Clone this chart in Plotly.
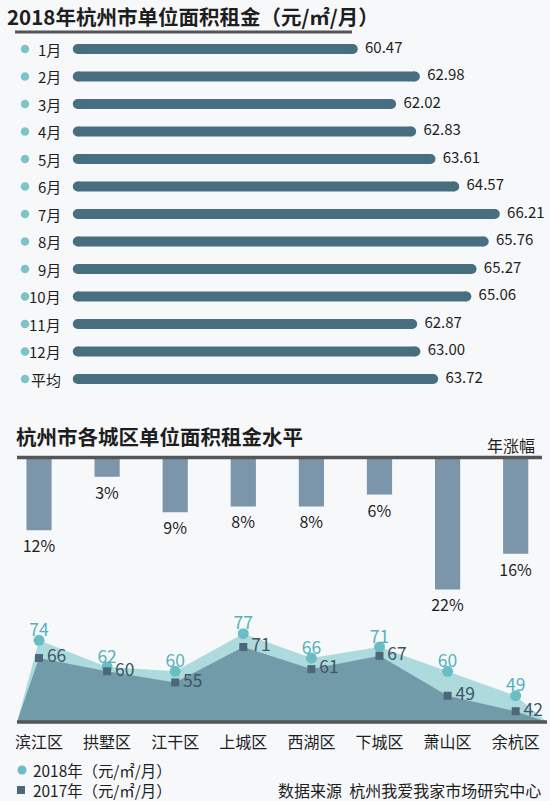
import plotly.graph_objects as go

W, H = 550, 801
FONT = "Noto Sans CJK SC"

# ---------------- data ----------------
months = ["1月", "2月", "3月", "4月", "5月", "6月", "7月", "8月", "9月", "10月", "11月", "12月", "平均"]
rent_2018 = [60.47, 62.98, 62.02, 62.83, 63.61, 64.57, 66.21, 65.76, 65.27, 65.06, 62.87, 63.00, 63.72]

districts = ["滨江区", "拱墅区", "江干区", "上城区", "西湖区", "下城区", "萧山区", "余杭区"]
growth_pct = [12, 3, 9, 8, 8, 6, 22, 16]
district_rent_2018 = [74, 62, 60, 77, 66, 71, 60, 49]
district_rent_2017 = [66, 60, 55, 71, 61, 67, 49, 42]

# ---------------- styles ----------------
BG = "#f7f8fa"
TEXT = "#1e1e1e"
RULE = "#555555"
BAR_COLOR = "#486f80"
DOT_COLOR = "#7cc4ca"
GROWTH_COLOR = "#7b95ab"
AREA_2018 = "#addadd"
AREA_2017 = "#729ba9"
DOT_2018 = "#6bbdc4"
LABEL_2018 = "#55b2ba"
SQ_2017 = "#4a6878"
LABEL_2017 = "#3e5663"

BAR_START = 49.36          # left end of the monthly capsules
X1_RANGE = [46.217, 68.439]
X_RANGE = [-0.573, 7.504]  # shared by the district charts
Y2_MAX = 23.78
Y3_RANGE = [37.13, 92.2]
AREA_PAD_L, AREA_PAD_R = 0.323, 0.46


def px(x):
    return x / W


def py(y):
    return 1 - y / H


fig = go.Figure()

# monthly capsules (line + round caps)
cap_x, cap_y = [], []
for m, v in zip(months, rent_2018):
    cap_x += [BAR_START, v, None]
    cap_y += [m, m, None]
fig.add_trace(go.Scatter(
    x=cap_x, y=cap_y, mode="lines+markers",
    line=dict(color=BAR_COLOR, width=10),
    marker=dict(color=BAR_COLOR, size=10),
    hoverinfo="skip", xaxis="x", yaxis="y"))
fig.add_trace(go.Scatter(
    x=rent_2018, y=months, mode="markers+text",
    marker=dict(size=18, color="rgba(0,0,0,0)"),
    text=[f"{v:.2f}" for v in rent_2018], textposition="middle right",
    textfont=dict(family=FONT, size=15, color=TEXT),
    cliponaxis=False, xaxis="x", yaxis="y"))

# yearly growth bars
idx = list(range(len(districts)))
fig.add_trace(go.Bar(
    x=idx, y=growth_pct, width=0.37, marker=dict(color=GROWTH_COLOR, line=dict(width=0)),
    text=[f"{g}%" for g in growth_pct], textposition="outside", constraintext="none",
    textfont=dict(family=FONT, size=16, color=TEXT), cliponaxis=False,
    xaxis="x2", yaxis="y2"))

# district rent areas
area_x = [idx[0] - AREA_PAD_L] + idx + [idx[-1] + AREA_PAD_R]
for vals, col in [(district_rent_2018, AREA_2018), (district_rent_2017, AREA_2017)]:
    fig.add_trace(go.Scatter(
        x=area_x, y=[Y3_RANGE[0]] + vals + [Y3_RANGE[0]],
        mode="lines", fill="toself", fillcolor=col, line=dict(width=0),
        hoverinfo="skip", xaxis="x3", yaxis="y3"))

fig.add_trace(go.Scatter(
    x=idx, y=district_rent_2018, mode="markers",
    marker=dict(symbol="circle", size=11, color=DOT_2018),
    xaxis="x3", yaxis="y3"))
fig.add_trace(go.Scatter(
    x=idx, y=district_rent_2018, mode="text", text=[str(v) for v in district_rent_2018],
    textposition="top center", textfont=dict(family=FONT, size=17.5, color=LABEL_2018),
    cliponaxis=False, xaxis="x3", yaxis="y3"))
fig.add_trace(go.Scatter(
    x=idx, y=district_rent_2017, mode="markers",
    marker=dict(symbol="square", size=8, color=SQ_2017),
    xaxis="x3", yaxis="y3"))
fig.add_trace(go.Scatter(
    x=idx, y=district_rent_2017, mode="markers+text",
    marker=dict(size=11, color="rgba(0,0,0,0)"),
    text=[str(v) for v in district_rent_2017], textposition="middle right",
    textfont=dict(family=FONT, size=17.5, color=LABEL_2017),
    cliponaxis=False, xaxis="x3", yaxis="y3"))

shapes = [
    dict(type="line", xref="paper", yref="paper", x0=px(15), x1=px(352), y0=py(32), y1=py(32),
         line=dict(color=RULE, width=3)),
    dict(type="line", xref="paper", yref="paper", x0=px(17), x1=px(542), y0=py(457.5), y1=py(457.5),
         line=dict(color=RULE, width=3.5)),
    dict(type="line", xref="paper", yref="paper", x0=px(17), x1=px(547), y0=py(722), y1=py(722),
         line=dict(color=RULE, width=3.5)),
    # legend icons
    dict(type="circle", xref="paper", yref="paper", x0=px(17.5), x1=px(26.5), y0=py(774.5), y1=py(765.5),
         fillcolor=DOT_2018, line=dict(width=0)),
    dict(type="rect", xref="paper", yref="paper", x0=px(17), x1=px(25), y0=py(794), y1=py(786),
         fillcolor=SQ_2017, line=dict(width=0)),
]
for i, m in enumerate(months):
    shapes.append(dict(type="circle", xref="paper", yref="y", x0=px(20.75), x1=px(29.25),
                       y0=i - 0.155, y1=i + 0.155, fillcolor=DOT_COLOR, line=dict(width=0)))

annotations = [
    dict(text="<b>2018年杭州市单位面积租金（元/㎡/月）</b>", x=px(5), y=py(15.5), xanchor="left",
         yanchor="middle", font=dict(size=20.5)),
    dict(text="<b>杭州市各城区单位面积租金水平</b>", x=px(14), y=py(436), xanchor="left",
         yanchor="middle", font=dict(size=20.5)),
    dict(text="年涨幅", x=px(537), y=py(445), xanchor="right", yanchor="middle", font=dict(size=16)),
    dict(text="2018年（元/㎡/月）<br>2017年（元/㎡/月）", x=px(31), y=py(780), xanchor="left",
         yanchor="middle", align="left", font=dict(size=15.4)),
    dict(text="数据来源\u00a0\u00a0杭州我爱我家市场研究中心", x=px(543), y=py(790), xanchor="right",
         yanchor="middle", font=dict(size=16)),
]
for a in annotations:
    a.update(xref="paper", yref="paper", showarrow=False)
    a["font"].update(family=FONT, color=TEXT)
for m in months:
    annotations.append(dict(text=m, xref="paper", yref="y", x=px(63), y=m, xanchor="right",
                            yanchor="middle", showarrow=False,
                            font=dict(family=FONT, size=15, color=TEXT)))

hidden = dict(visible=False, fixedrange=True)
fig.update_layout(
    width=W, height=H,
    margin=dict(l=0, r=0, t=0, b=0),
    paper_bgcolor=BG, plot_bgcolor="rgba(0,0,0,0)",
    showlegend=False,
    font=dict(family=FONT, color=TEXT),
    xaxis=dict(domain=[0, 1], range=X1_RANGE, anchor="y", **hidden),
    yaxis=dict(domain=[py(392.75), py(35.25)], type="category", categoryarray=months,
               categoryorder="array", range=[12.5, -0.5], anchor="x", **hidden),
    xaxis2=dict(domain=[0, 1], range=X_RANGE, anchor="y2", **hidden),
    yaxis2=dict(domain=[py(600), py(459)], range=[Y2_MAX, 0], anchor="x2", **hidden),
    xaxis3=dict(domain=[0, 1], range=X_RANGE, anchor="y3", fixedrange=True,
                tickvals=idx, ticktext=districts, showgrid=False, zeroline=False, showline=False,
                ticks="outside", ticklen=6, tickcolor="rgba(0,0,0,0)",
                tickfont=dict(family=FONT, size=16, color=TEXT)),
    yaxis3=dict(domain=[py(722), py(600)], range=Y3_RANGE, anchor="x3", **hidden),
    shapes=shapes,
    annotations=annotations,
)

# the page's default body margin would push the 550x801 figure out of the window
fig.write_html("out.html", config={"displayModeBar": False},
               post_script="document.body.style.margin='0';")
